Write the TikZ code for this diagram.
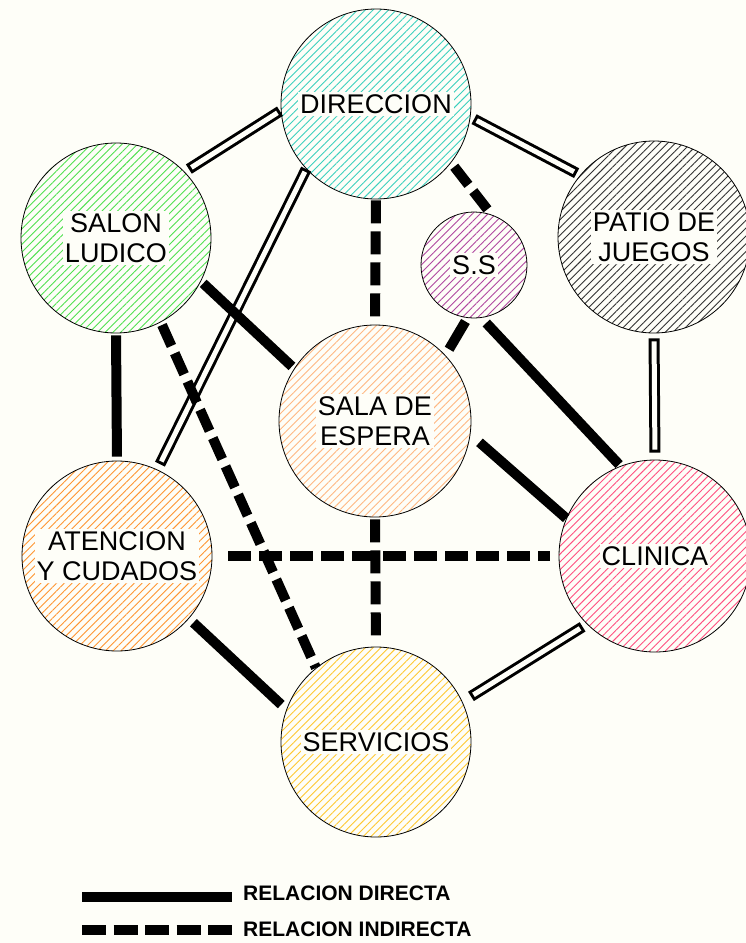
\documentclass[tikz,border=0pt]{standalone}
\usepackage{fontspec}
\setmainfont{Liberation Sans}
\usepackage{tikz}
\usetikzlibrary{patterns.meta}
\definecolor{papel}{RGB}{254,254,248}
\definecolor{turquesa}{RGB}{60,208,190}
\definecolor{verde}{RGB}{80,224,80}
\definecolor{morado}{RGB}{176,72,160}
\definecolor{gris}{RGB}{50,50,50}
\definecolor{durazno}{RGB}{255,184,130}
\definecolor{naranja}{RGB}{255,150,50}
\definecolor{rosa}{RGB}{255,80,128}
\definecolor{amarillo}{RGB}{255,200,50}

\begin{document}
\begin{tikzpicture}[x=1pt,y=1pt,
    sala/.style={circle,draw=black,line width=0.8pt,inner sep=0pt,minimum size=190pt},
    rayado/.style={pattern={Lines[angle=45,distance=5.5pt,line width=0.9pt]},pattern color=#1},
    rotulo/.style={fill=papel,inner sep=2pt,align=center,font=\fontsize{27}{30}\selectfont},
    directa/.style={line width=10pt},
    indirecta/.style={line width=10pt,dash pattern=on 23pt off 8pt},
    huecoborde/.style={line width=11pt},
    huecocentro/.style={line width=5pt,draw=papel}]
          %\draw[very thin,lightgray] (0,-943) grid[step=50] (746,0);
          \fill[papel] (0,0) rectangle (746,-943);
          \useasboundingbox (0,0) rectangle (746,-943);
          \node[sala,rayado=turquesa,label={[rotulo]center:DIRECCION}] (dir) at (376,-104) {};
          \node[sala,rayado=verde,label={[rotulo]center:{SALON\\LUDICO}}] (sal) at (116,-238) {};
          \node[sala,rayado=morado,minimum size=106pt,label={[rotulo]center:S.S}] (ss) at (474,-265) {};
          \node[sala,rayado=gris,minimum size=192pt,label={[rotulo]center:{PATIO DE\\JUEGOS}}] (pat) at (654,-237) {};
          \node[sala,rayado=durazno,minimum size=192pt,label={[rotulo]center:{SALA DE\\ESPERA}}] (esp) at (375,-421) {};
          \node[sala,rayado=naranja,label={[rotulo]center:{ATENCION\\Y CUDADOS}}] (ate) at (117,-556) {};
          \node[sala,rayado=rosa,minimum size=192pt,label={[rotulo]center:CLINICA}] (cli) at (655,-556) {};
          \node[sala,rayado=amarillo,label={[rotulo]center:SERVICIOS}] (ser) at (376,-742) {};
          % relaciones huecas
          \foreach \a/\b/\s/\t in {sal.44/dir.184/5/1, dir.-8/pat.140/4/4,
            dir.223/ate.65/0/6, pat.-90/cli.90/5/7, ser.25/cli.225/10/5}{
            \draw[huecoborde,shorten <=\s pt,shorten >=\t pt] (\a) -- (\b);
            \draw[huecocentro,shorten <=\s pt+3pt,shorten >=\t pt+3pt] (\a) -- (\b);
          }
          % relacion directa
          \foreach \a/\b/\s/\t in {sal.-27/esp.147/3/3, sal.-90/ate.90/2/4,
            ss.-97/esp.43/4/7, ss.-82/cli.111/7/2, esp.-8/cli.157/12/0,
            ate.-41/ser.160/6/7}
            \draw[directa,shorten <=\s pt,shorten >=\t pt] (\a) -- (\b);
          % relacion indirecta
          \foreach \a/\b/\s/\t in {dir.-38/ss.71/5/3, dir.-90/esp.90/1/2,
            sal.-62/ser.129/3/0, esp.-90/ser.90/2/5, ate.0/cli.180/16/9}
            \draw[indirecta,shorten <=\s pt,shorten >=\t pt] (\a) -- (\b);
          % leyenda
          \coordinate (ldir0) at (82,-897);
          \coordinate (lind0) at (82,-930);
          \node[anchor=west,inner sep=0pt,font=\bfseries\fontsize{21}{24}\selectfont]
          (ldir) at (243,-893.5) {RELACION DIRECTA};
          \node[anchor=west,inner sep=0pt,font=\bfseries\fontsize{21}{24}\selectfont]
          (lind) at (243,-929.5) {RELACION INDIRECTA};
          \draw[directa,shorten >=11pt] (ldir0) -- (ldir0 -| ldir.west);
          \draw[indirecta,dash pattern=on 24pt off 7.5pt,shorten >=11pt]
          (lind0) -- (lind0 -| lind.west);
        \end{tikzpicture}
\end{document}
